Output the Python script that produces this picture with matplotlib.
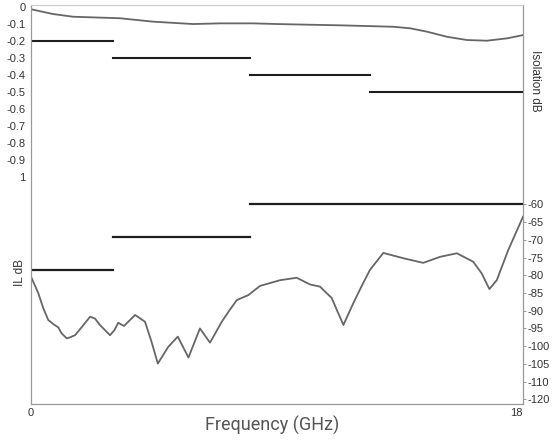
import numpy as np
import matplotlib
matplotlib.use("Agg")
import matplotlib.pyplot as plt

plt.rcParams.update({"font.family": ["Liberation Sans", "DejaVu Sans"], "font.size": 8})

# ---- data ----
# insertion loss curve (left axis, dB)
il_f = [0, 0.8, 1.54, 3.26, 4.46, 5.93, 6.92, 8.12, 9.0, 9.59, 11.42, 13.25,
        13.87, 14.49, 15.22, 15.95, 16.68, 17.42, 18.0]
il_db = [-0.016, -0.044, -0.06, -0.069, -0.089, -0.103, -0.099, -0.099, -0.103,
         -0.105, -0.111, -0.119, -0.128, -0.148, -0.178, -0.197, -0.201, -0.187, -0.168]

# IL spec limits (left axis)
il_lim_f = [(0, 3), (3, 8), (8, 12.4), (12.4, 18)]
il_lim_db = [-0.2, -0.3, -0.4, -0.5]

# isolation curve (right axis, dB)
iso_f = [0, 0.27, 0.45, 0.63, 0.82, 1.0, 1.12, 1.31, 1.43, 1.61, 1.85, 2.16, 2.34,
         2.52, 2.71, 2.89, 3.05, 3.19, 3.40, 3.81, 4.17, 4.40, 4.64, 5.02, 5.37,
         5.76, 6.18, 6.55, 6.98, 7.25, 7.53, 7.95, 8.38, 9.11, 9.72, 10.21, 10.57,
         11.0, 11.19, 11.43, 11.79, 12.1, 12.4, 12.89, 13.62, 14.35, 14.97, 15.58,
         16.18, 16.49, 16.77, 17.04, 17.46, 18.0]
iso_db = [-80.4, -85.1, -89.3, -92.6, -93.8, -94.7, -96.4, -97.8, -97.5, -96.9, -94.7,
          -91.7, -92.2, -94.0, -95.5, -96.9, -95.5, -93.4, -94.3, -91.2, -93.1, -98.5,
          -104.9, -100.2, -97.3, -103.2, -95.0, -99.0, -93.1, -90.0, -87.0, -85.6,
          -83.0, -81.4, -80.7, -82.6, -83.2, -86.4, -89.8, -94.0, -87.9, -83.0, -78.5,
          -73.7, -75.2, -76.5, -74.8, -73.8, -76.2, -79.5, -83.9, -81.4, -72.9, -63.5]

# isolation spec limits (right axis)
iso_lim_f = [(0, 3), (3, 8), (8, 18)]
iso_lim_db = [-78.5, -69.3, -60]

left_ticks = [0, -0.1, -0.2, -0.3, -0.4, -0.5, -0.6, -0.7, -0.8, -0.9, -1.0]
left_labels = ["0", "-0.1", "-0.2", "-0.3", "-0.4", "-0.5", "-0.6", "-0.7", "-0.8", "-0.9", "1"]
right_ticks = [-60, -65, -70, -75, -80, -85, -90, -95, -100, -105, -110, -115]
right_labels = ["-60", "-65", "-70", "-75", "-80", "-85", "-90", "-95", "-100", "-105", "-110", "-120"]

fig = plt.figure(figsize=(5.55, 4.42), dpi=100)
ax = fig.add_axes([31 / 555, 38 / 442, 492 / 555, 399 / 442])
ax2 = ax.twinx()

curve_c = "#666666"
lim_c = "#1e1e1e"

ax.plot(il_f, il_db, color=curve_c, lw=1.3)
for (f0, f1), v in zip(il_lim_f, il_lim_db):
    ax.plot([f0, f1], [v, v], color=lim_c, lw=1.5)

ax2.plot(iso_f, iso_db, color=curve_c, lw=1.3)
for (f0, f1), v in zip(iso_lim_f, iso_lim_db):
    ax2.plot([f0, f1], [v, v], color=lim_c, lw=1.6)

ax.set_xlim(0, 18)
ax.set_ylim(-2.338, 0.009)
ax2.set_ylim(-116.3, -3.8)

ax.set_yticks(left_ticks)
ax.set_yticklabels(left_labels, color="#333333")
ax.tick_params(axis="y", length=0, pad=4)
ax2.set_yticks(right_ticks)
ax2.set_yticklabels(right_labels, color="#333333")
ax2.tick_params(axis="y", length=2, width=0.6, pad=1, color="#888888")

ax.set_xticks([0, 18])
ax.set_xticklabels(["0", "18"], color="#333333")
ax.tick_params(axis="x", length=0, pad=3)
xl = ax.get_xticklabels()
xl[1].set_horizontalalignment("right")

for a in (ax, ax2):
    for s in a.spines.values():
        s.set_color("#999999")
        s.set_linewidth(0.8)
    a.spines["top"].set_color("#cccccc")

fig.text(20 / 555, 1 - 273 / 442, "IL dB", rotation=90, ha="center", va="center",
         fontsize=8.5, color="#333333")
fig.text(535 / 555, 1 - 81 / 442, "Isolation dB", rotation=-90, ha="center", va="center",
         fontsize=8.5, color="#333333")
fig.text(272 / 555, 1 - 425 / 442, "Frequency (GHz)", ha="center", va="center",
         fontsize=13, color="#555555", family=["Roboto", "DejaVu Sans"])

fig.savefig("out.png", dpi=100)
